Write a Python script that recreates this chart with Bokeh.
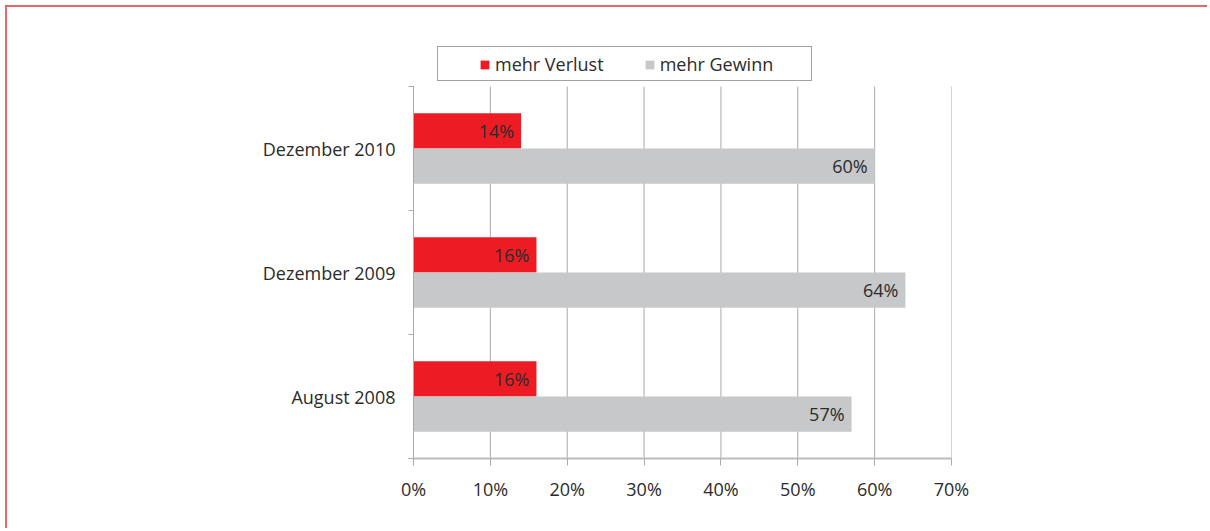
from bokeh.plotting import figure
from bokeh.models import Range1d, FixedTicker, PrintfTickFormatter, ColumnDataSource, Legend, LegendItem
from bokeh.core.properties import value
from bokeh.embed import file_html
from bokeh.resources import INLINE
import numpy as np

categories = ["August 2008", "Dezember 2009", "Dezember 2010"]
verlust = [16, 16, 14]
gewinn = [57, 64, 60]
x_ticks = [0, 10, 20, 30, 40, 50, 60, 70]

FONT = "Open Sans"
TXT = "#2b2b2b"
RED = "#ed1c24"
GREY = "#c7c8c9"
GRID = "#aaaaaa"
AX = "#bcbcbc"

n = len(categories)
idx = np.arange(n) + 0.5
bh = 0.285
off = 0.1425

# frame spans from y=27 to y=458 in the picture; the categories occupy the lower 372 px
frame_h = 431
cat_h = 372
y_top = n * frame_h / cat_h

src = ColumnDataSource(dict(
    y_v=idx + off, y_g=idx - off, v=verlust, g=gewinn,
    vl=[f"{x}%" for x in verlust], gl=[f"{x}%" for x in gewinn],
))
grid_src = ColumnDataSource(dict(x=x_ticks, y0=[0] * len(x_ticks), y1=[n] * len(x_ticks)))

p = figure(width=1202, height=523, output_backend="svg", toolbar_location=None,
           x_range=Range1d(0, 70), y_range=Range1d(0, y_top),
           min_border_left=406, min_border_right=258, min_border_top=20, min_border_bottom=72)
p.styles = {"border-top": "2px solid #e9666d", "border-left": "2px solid #e9666d",
            "margin-left": "5px", "margin-top": "5px"}
p.outline_line_color = None
p.background_fill_color = "white"
p.xgrid.grid_line_color = None
p.ygrid.grid_line_color = None

p.segment(x0="x", x1="x", y0="y0", y1="y1", source=grid_src, line_color=GRID, line_width=1)

r_v = p.hbar(y="y_v", right="v", left=0, height=bh, source=src, fill_color=RED, line_color=None)
r_g = p.hbar(y="y_g", right="g", left=0, height=bh, source=src, fill_color=GREY, line_color=None)

p.text(x="v", y="y_v", text="vl", source=src, x_offset=-7, text_align="right", text_baseline="middle",
       text_font=value(FONT), text_font_size="18px", text_color=TXT)
p.text(x="g", y="y_g", text="gl", source=src, x_offset=-7, text_align="right", text_baseline="middle",
       text_font=value(FONT), text_font_size="18px", text_color=TXT)

# x axis
p.xaxis.ticker = FixedTicker(ticks=x_ticks)
p.xaxis.formatter = PrintfTickFormatter(format="%d%%")
p.xaxis.axis_line_color = AX
p.xaxis.axis_line_width = 2
p.xaxis.major_tick_line_color = GRID
p.xaxis.major_tick_out = 7
p.xaxis.major_tick_in = 0
p.xaxis.minor_tick_line_color = None
p.xaxis.major_label_standoff = 11
p.xaxis.major_label_text_font = FONT
p.xaxis.major_label_text_font_size = "18px"
p.xaxis.major_label_text_color = TXT

# y axis
p.yaxis.bounds = (0, n)
p.yaxis.ticker = FixedTicker(ticks=list(idx), minor_ticks=list(range(n + 1)))
p.yaxis.major_label_overrides = {float(i): c for i, c in zip(idx, categories)}
p.yaxis.axis_line_color = GRID
p.yaxis.major_tick_line_color = None
p.yaxis.major_tick_out = 0
p.yaxis.major_tick_in = 0
p.yaxis.minor_tick_line_color = GRID
p.yaxis.minor_tick_out = 5
p.yaxis.minor_tick_in = 0
p.yaxis.major_label_standoff = 13
p.yaxis.major_label_text_font = FONT
p.yaxis.major_label_text_font_size = "18px"
p.yaxis.major_label_text_color = TXT

legend = Legend(items=[LegendItem(label="mehr Verlust", renderers=[r_v]),
                       LegendItem(label="mehr Gewinn", renderers=[r_g])],
                orientation="horizontal", location=(24, 377),
                glyph_width=11, glyph_height=11, label_standoff=5, spacing=40,
                margin=0, label_text_font=FONT, label_text_font_size="18px",
                label_text_color=TXT, border_line_color="#444444", border_line_width=1.3,
                background_fill_color="white", background_fill_alpha=1.0)
legend.label_height = 18
try:
    legend.padding = (41, 38, 5, 4)
except Exception:
    legend.padding = 5
p.add_layout(legend, "center")

open("out.html", "w").write(file_html(p, INLINE))
